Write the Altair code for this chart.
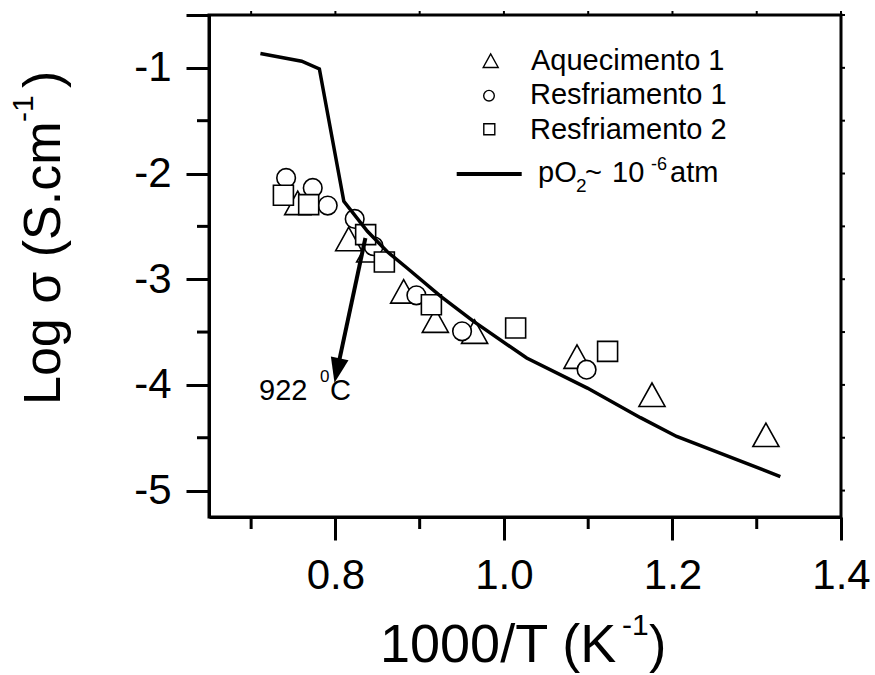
import altair as alt
import pandas as pd

FONT = "Liberation Sans"

# ---- data ----
tri_x = [0.7553, 0.8158, 0.8407, 0.8810, 0.9186, 0.9652, 1.0867, 1.1757, 1.3109]
tri_y = [-2.278, -2.619, -2.726, -3.115, -3.392, -3.496, -3.733, -4.093, -4.472]
cir_x = [0.7415, 0.7731, 0.7909, 0.8229, 0.8454, 0.8961, 0.9503, 1.0981]
cir_y = [-2.042, -2.136, -2.303, -2.430, -2.688, -3.152, -3.493, -3.856]
sq_x = [0.7383, 0.7683, 0.8359, 0.8581, 0.9139, 1.0139, 1.1230]
sq_y = [-2.206, -2.294, -2.578, -2.837, -3.241, -3.462, -3.683]
line_x = [0.711, 0.760, 0.781, 0.810, 0.838, 0.861, 0.885, 0.925, 0.964,
          1.027, 1.099, 1.162, 1.205, 1.328]
line_y = [-0.865, -0.937, -1.010, -2.262, -2.546, -2.736, -2.894, -3.162,
          -3.399, -3.746, -4.030, -4.310, -4.488, -4.867]
arrow_x = [0.8356, 0.8020]
arrow_y = [-2.61, -3.865]

x_major = [0.8, 1.0, 1.2, 1.4]
x_minor = [0.7, 0.9, 1.1, 1.3]
y_major = [-5, -4, -3, -2, -1, -0.5]
y_minor = [-4.5, -3.5, -2.5, -1.5]
x_all = [0.7, 0.8, 0.9, 1.0, 1.1, 1.2, 1.3, 1.4]
y_all = [-5, -4.5, -4, -3.5, -3, -2.5, -2, -1.5, -1, -0.5]

legend_labels = ["Aquecimento 1", "Resfriamento 1", "Resfriamento 2"]
x_title = ["1000/T (K", "-1", ")"]
y_title = ["Log σ (S.cm", "-1", ")"]
note = ["922 ", "0", "C"]
line_label = ["pO", "2", "~", "10", "-6", "atm"]

W, H = 632, 502
TRI = "M0,-0.9L-1,0.9L1,0.9Z"
HEAD = "M-0.72,-1L0.72,-1L0,1Z"

xs = alt.Scale(domain=[0.65, 1.4], nice=False, zero=False)
ys = alt.Scale(domain=[-5.25, -0.5], nice=False, zero=False)

xaxis = alt.Axis(orient="bottom", values=x_major, title=None, grid=False,
                 domainColor="black", domainWidth=3, tickColor="black",
                 tickWidth=3, tickSize=23, labelFont=FONT, labelFontSize=42,
                 labelColor="black", labelPadding=15, labelFlush=False,
                 labelOverlap=False, labelExpr="format(datum.value, '.1f')")
yaxis = alt.Axis(orient="left", values=y_major, title=None, grid=False,
                 domainColor="black", domainWidth=3, tickColor="black",
                 tickWidth=3, tickSize=23, labelFont=FONT, labelFontSize=42,
                 labelColor="black", labelPadding=15, labelFlush=False,
                 labelOverlap=False,
                 labelExpr="datum.value == -0.5 ? '' : '' + datum.value")

X = alt.X("x:Q", scale=xs, axis=xaxis)
Y = alt.Y("y:Q", scale=ys, axis=yaxis)

tri_df = pd.DataFrame({"x": tri_x, "y": tri_y})
cir_df = pd.DataFrame({"x": cir_x, "y": cir_y})
sq_df = pd.DataFrame({"x": sq_x, "y": sq_y})
line_df = pd.DataFrame({"x": line_x, "y": line_y})
arrow_df = pd.DataFrame({"x": [arrow_x[0]], "y": [arrow_y[0]],
                         "x2": [arrow_x[1]], "y2": [arrow_y[1]]})
head_df = pd.DataFrame({"x": [arrow_x[1]], "y": [arrow_y[1]]})
one = pd.DataFrame({"k": [0]})


def pts(df, shape, size):
    return alt.Chart(df).mark_point(shape=shape, size=size, filled=True,
                                    fill="white", stroke="black",
                                    strokeWidth=1.6, opacity=1).encode(x=X, y=Y)


def txt(s, x, y, size, angle=0):
    return alt.Chart(one).mark_text(text=s, font=FONT, fontSize=size, angle=angle,
                                    align="left", baseline="alphabetic",
                                    color="black").encode(x=alt.value(x), y=alt.value(y))


def sym(shape, size, x, y):
    return alt.Chart(one).mark_point(shape=shape, size=size, filled=True,
                                     fill="white", stroke="black", strokeWidth=1.4,
                                     opacity=1).encode(x=alt.value(x), y=alt.value(y))


# minor ticks and mirror ticks
xmin_df = pd.DataFrame({"x": x_minor})
ymin_df = pd.DataFrame({"y": y_minor})
xall_df = pd.DataFrame({"x": x_all})
yall_df = pd.DataFrame({"y": y_all})

minor_x = alt.Chart(xmin_df).mark_rule(color="black", strokeWidth=3).encode(
    x=X, y=alt.value(H), y2=alt.value(H + 12))
minor_y = alt.Chart(ymin_df).mark_rule(color="black", strokeWidth=3).encode(
    y=Y, x=alt.value(0), x2=alt.value(-12))
top_t = alt.Chart(xall_df).mark_rule(color="black", strokeWidth=2).encode(
    x=X, y=alt.value(0), y2=alt.value(-4))
right_t = alt.Chart(yall_df).mark_rule(color="black", strokeWidth=2).encode(
    y=Y, x=alt.value(W), x2=alt.value(W + 4))

tri = pts(tri_df, TRI, 680)
cir = pts(cir_df, "circle", 346)
sq = pts(sq_df, "square", 400)

curve = alt.Chart(line_df).mark_line(color="black", strokeWidth=3.5).encode(x=X, y=Y)

arrow = alt.Chart(arrow_df).mark_rule(color="black", strokeWidth=4).encode(
    x=X, y=Y, x2="x2:Q", y2="y2:Q")
head = alt.Chart(head_df).mark_point(shape=HEAD, size=625, angle=12, filled=True,
                                     color="black", opacity=1).encode(x=X, y=Y)

texts = [
    # y title (rotated)
    txt(y_title[0], -149, 390, 52, 270),
    txt(y_title[1], -176, 107, 30, 270),
    txt(y_title[2], -149, 73, 52, 270),
    # x title
    txt(x_title[0], 171, 647, 54),
    txt(x_title[1], 413, 620, 30),
    txt(x_title[2], 440, 647, 52),
    # annotation
    txt(note[0], 50, 385, 29),
    txt(note[1], 111, 367, 17),
    txt(note[2], 121, 385, 29),
    # legend
    txt(legend_labels[0], 322, 55, 29),
    txt(legend_labels[1], 321, 89, 29),
    txt(legend_labels[2], 321, 124, 29),
    txt(line_label[0], 329, 166.7, 29),
    txt(line_label[1], 367, 177, 19),
    txt(line_label[2], 376, 166.7, 29),
    txt(line_label[3], 403, 166.7, 29),
    txt(line_label[4], 442, 155, 18),
    txt(line_label[5], 461, 166.7, 29),
]

leg_syms = [
    sym(TRI, 225, 281.7, 45.7),
    sym("circle", 113, 280, 80.7),
    sym("square", 121, 280.3, 114.3),
    alt.Chart(one).mark_rule(color="black", strokeWidth=4).encode(
        x=alt.value(247.7), x2=alt.value(312.7), y=alt.value(159)),
]

chart = alt.layer(
    minor_x, minor_y, top_t, right_t, tri, cir, sq, curve, arrow, head,
    *texts, *leg_syms
).properties(
    width=W, height=H,
    padding={"left": 209, "top": 15, "right": 34, "bottom": 158},
    autosize=alt.AutoSizeParams(type="none"),
    background="white",
).configure_view(stroke="black", strokeWidth=3)

chart.save("out.html", embed_options={"renderer": "svg", "actions": False})
